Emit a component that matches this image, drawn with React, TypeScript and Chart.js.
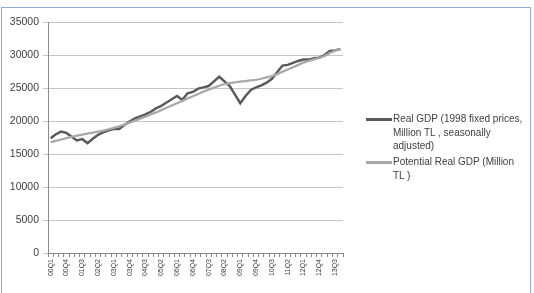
import React, { useEffect, useRef } from "react";
import { Chart, registerables } from "chart.js";

Chart.register(...registerables);

const categories: string[] = [
  "00Q1", "00Q2", "00Q3", "00Q4",
  "01Q1", "01Q2", "01Q3", "01Q4",
  "02Q1", "02Q2", "02Q3", "02Q4",
  "03Q1", "03Q2", "03Q3", "03Q4",
  "04Q1", "04Q2", "04Q3", "04Q4",
  "05Q1", "05Q2", "05Q3", "05Q4",
  "06Q1", "06Q2", "06Q3", "06Q4",
  "07Q1", "07Q2", "07Q3", "07Q4",
  "08Q1", "08Q2", "08Q3", "08Q4",
  "09Q1", "09Q2", "09Q3", "09Q4",
  "10Q1", "10Q2", "10Q3", "10Q4",
  "11Q1", "11Q2", "11Q3", "11Q4",
  "12Q1", "12Q2", "12Q3", "12Q4",
  "13Q1", "13Q2", "13Q3", "13Q4",
];

const realGdp: number[] = [
  17400, 18000, 18400, 18200,
  17600, 17050, 17250, 16650,
  17300, 17900, 18300, 18600,
  18800, 18800, 19400, 19900,
  20400, 20700, 21000, 21400,
  21900, 22300, 22800, 23300,
  23800, 23200, 24200, 24400,
  24900, 25100, 25300, 26000,
  26700, 26000, 25300, 24000,
  22700, 23800, 24700, 25100,
  25400, 25800, 26400, 27400,
  28400, 28500, 28800, 29100,
  29300, 29300, 29500, 29600,
  30000, 30600, 30700, 30900,
];

const potentialGdp: number[] = [
  16800, 17000, 17200, 17400,
  17600, 17800, 17950, 18100,
  18250, 18400, 18550, 18750,
  18950, 19200, 19450, 19750,
  20050, 20350, 20650, 21000,
  21300, 21650, 22000, 22350,
  22700, 23050, 23400, 23750,
  24100, 24450, 24750, 25050,
  25350, 25600, 25750, 25850,
  25950, 26050, 26150, 26250,
  26400, 26600, 26800, 27100,
  27450, 27800, 28150, 28500,
  28850, 29100, 29350, 29550,
  29850, 30300, 30650, 30900,
];

const yTicks: number[] = [0, 5000, 10000, 15000, 20000, 25000, 30000, 35000];

const legendReal: string[] = ["Real GDP (1998 fixed prices,", "Million TL , seasonally", "adjusted)"];
const legendPotential: string[] = ["Potential Real GDP (Million", "TL )"];

const FONT = "'Liberation Sans', Arial, sans-serif";
const DARK = "#5a5a5a";
const LIGHT = "#a8a8a8";

export default function App() {
  const canvasRef = useRef<HTMLCanvasElement | null>(null);

  useEffect(() => {
    const canvas = canvasRef.current;
    if (!canvas) return;
    const chart = new Chart(canvas, {
      type: "line",
      data: {
        labels: categories,
        datasets: [
          {
            label: legendReal.join(" "),
            data: realGdp,
            borderColor: DARK,
            borderWidth: 2.5,
            pointRadius: 0,
            tension: 0,
            order: 1,
          },
          {
            label: legendPotential.join(" "),
            data: potentialGdp,
            borderColor: LIGHT,
            borderWidth: 2.25,
            pointRadius: 0,
            tension: 0,
            order: 0,
          },
        ],
      },
      options: {
        responsive: false,
        animation: false,
        devicePixelRatio: 1,
        layout: { padding: { left: 0, top: 22, right: 191, bottom: 0 } },
        plugins: {
          legend: { display: false },
          tooltip: { enabled: false },
          title: { display: false },
        },
        scales: {
          x: {
            type: "category",
            offset: true,
            grid: {
              display: true,
              drawOnChartArea: false,
              drawTicks: true,
              tickLength: 4,
              color: "#8a8a8a",
              offset: true,
            },
            border: { display: true, color: "#8a8a8a", width: 1 },
            ticks: {
              autoSkip: false,
              minRotation: 90,
              maxRotation: 90,
              padding: 2,
              color: "#404040",
              font: { family: FONT, size: 7 },
              callback: (_v: any, i: number) => (i % 3 === 0 ? categories[i] : ""),
            },
            afterFit: (s: any) => {
              s.height = 40;
            },
          },
          y: {
            min: yTicks[0],
            max: yTicks[yTicks.length - 1],
            afterBuildTicks: (s: any) => {
              s.ticks = yTicks.map((v) => ({ value: v }));
            },
            grid: {
              color: "#c6c6c6",
              lineWidth: 1,
              tickLength: 5,
              drawTicks: true,
            },
            border: { display: true, color: "#8a8a8a", width: 1 },
            ticks: {
              padding: 4,
              color: "#404040",
              font: { family: FONT, size: 10.5 },
              callback: (v: any) => String(v),
            },
            afterFit: (s: any) => {
              s.width = 48;
            },
          },
        },
      },
    });
    return () => chart.destroy();
  }, []);

  const legendItem = (lines: string[], color: string, top: number) => (
    <div style={{ position: "absolute", left: 366, top, display: "flex", alignItems: "flex-start" }}>
      <div style={{ width: 26, height: 2.5, background: color, marginTop: 6, flex: "none" }} />
      <div style={{ fontFamily: FONT, fontSize: 10, lineHeight: "13.5px", color: "#404040", whiteSpace: "nowrap", marginLeft: 1 }}>
        {lines.map((l, i) => (
          <div key={i}>{l}</div>
        ))}
      </div>
    </div>
  );

  return (
    <div style={{ position: "absolute", left: 0, top: 0, width: 534, height: 293, overflow: "hidden", background: "#ffffff" }}>
      <canvas ref={canvasRef} width={534} height={293} style={{ position: "absolute", left: 0, top: 0, width: 534, height: 293 }} />
      <div
        style={{
          position: "absolute",
          left: 1,
          top: 7,
          width: 528,
          height: 300,
          border: "1.5px solid #93aed6",
          pointerEvents: "none",
        }}
      />
      {legendItem(legendReal, DARK, 112)}
      {legendItem(legendPotential, LIGHT, 155)}
    </div>
  );
}
